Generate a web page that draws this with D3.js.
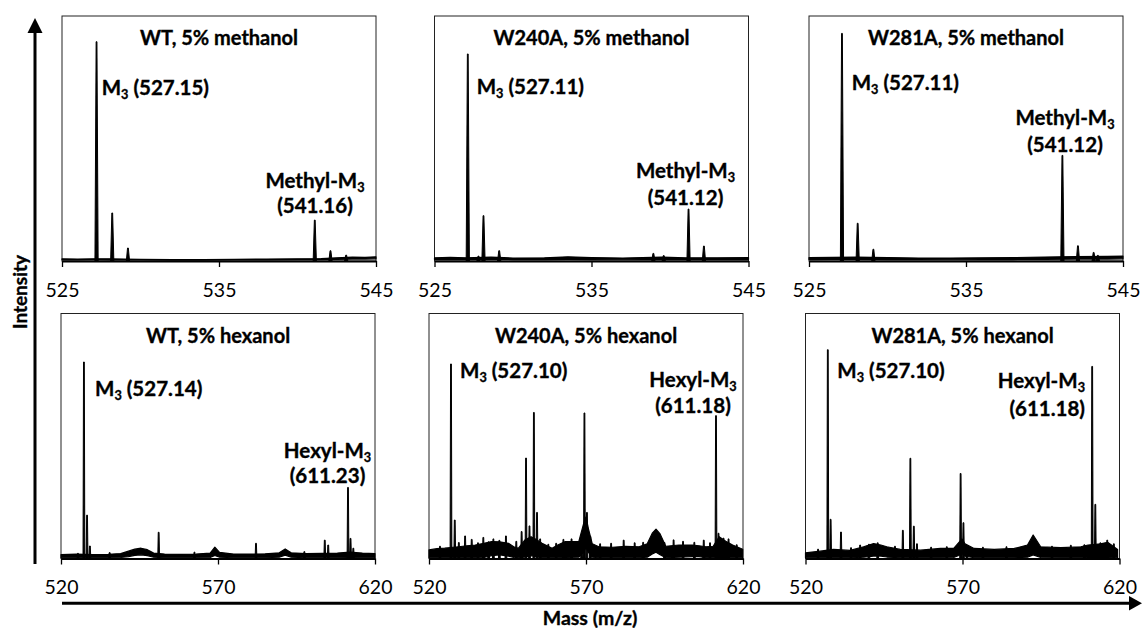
<!DOCTYPE html>
<html>
<head>
<meta charset="utf-8">
<script src="https://cdn.jsdelivr.net/npm/d3@7"></script>
<style>
  body { margin: 0; background: #fff; }
  svg { display: block; }
</style>
</head>
<body>
<script>
// ---- data (m/z, relative intensity in % of panel height) ----
const titles = ["WT, 5% methanol", "W240A, 5% methanol", "W281A, 5% methanol",
                "WT, 5% hexanol", "W240A, 5% hexanol", "W281A, 5% hexanol"];
const parentMz = ["527.15", "527.11", "527.11", "527.14", "527.10", "527.10"];
const adductName = ["Methyl", "Methyl", "Methyl", "Hexyl", "Hexyl", "Hexyl"];
const adductMz = ["541.16", "541.12", "541.12", "611.23", "611.18", "611.18"];
const methTicks = [525, 535, 545];
const hexTicks = [520, 570, 620];

const wtMethPeaks = [[527.2, 89.5], [528.2, 19.6], [529.2, 5.3], [541.1, 16.7], [542.1, 4.2], [543.1, 2.4]];
const wtMethNoise = [[525, 0.5, 0.9], [526, 0.5, 0.8], [527, 0.5, 0.9], [528, 0.4, 0.9], [530, 0.4, 0.7], [532, 0.3, 0.6],
  [534, 0.3, 0.6], [536, 0.4, 0.7], [538, 0.4, 0.8], [540, 0.5, 0.9], [541.5, 0.6, 1.0], [542.5, 0.7, 1.3],
  [543.5, 0.8, 1.6], [544.3, 0.8, 1.5], [545, 0.9, 1.7]];

const w240MethPeaks = [[527.12, 84.5], [527.8, 2.0], [528.12, 18.5], [529.12, 4.2], [538.94, 3.1], [539.6, 2.2],
  [541.18, 21.2], [542.16, 6.1]];
const w240MethNoise = [[525, 0.6, 1.3], [526, 0.7, 1.5], [527, 0.6, 1.3], [528.6, 0.7, 1.6], [530, 0.6, 1.2],
  [532, 0.6, 1.3], [533.5, 0.7, 1.7], [535, 0.6, 1.4], [537, 0.5, 1.2], [539.5, 0.7, 1.6], [541, 0.6, 1.3],
  [543, 0.6, 1.3], [545, 0.6, 1.4]];

const w281MethPeaks = [[527.1, 92.9], [528.1, 15.4], [529.1, 4.8], [541.14, 43.1], [542.13, 6.2], [543.13, 3.5], [543.4, 2.3]];
const w281MethNoise = [[525, 0.6, 1.4], [526.5, 0.7, 1.5], [528, 0.7, 1.6], [530, 0.6, 1.4], [532, 0.6, 1.2],
  [534, 0.5, 1.2], [536, 0.6, 1.3], [538, 0.6, 1.4], [540, 0.7, 1.6], [542, 0.8, 1.8], [544, 0.8, 1.9], [545, 0.9, 2.0]];

const wtHexPeaks = [[525.4, 2.1], [527.3, 80.2], [528.3, 17.7], [529.2, 5.1], [535.5, 2.4], [551.1, 10.7], [562.5, 2.6],
  [582.1, 6.2], [597.5, 2.8], [604.0, 7.5], [605.1, 5.5], [611.4, 29.0], [612.2, 8.2], [613.1, 4.2]];
const wtHexNoise = [[520, 0.3, 1.6], [525, 0.3, 1.8], [530, 0.3, 1.6], [535, 0.3, 1.7], [539, 0.4, 2.0], [541.5, 0.8, 3.0],
  [543.5, 1.3, 3.8], [545.5, 1.5, 4.2], [547.5, 1.2, 3.6], [549.5, 0.5, 2.2], [553, 0.3, 1.8], [558, 0.3, 1.7],
  [563, 0.3, 1.8], [567.5, 0.4, 2.2], [569, 1.2, 4.6], [570.5, 0.5, 2.5], [575, 0.3, 1.8], [580, 0.3, 1.8],
  [585, 0.3, 1.9], [589.5, 0.5, 2.3], [591.4, 1.4, 3.9], [593.3, 0.5, 2.3], [598, 0.3, 2.0], [603, 0.3, 2.1],
  [608, 0.3, 2.2], [612, 0.4, 2.6], [616, 0.3, 2.2], [620, 0.3, 2.0]];

const w240HexPeaks = [[523.5, 5.0], [527.0, 79.4], [528.2, 15.7], [529.5, 6.5], [531.5, 9.2], [533.6, 7.8], [535.6, 6.4],
  [537.3, 8.6], [539.0, 6.8], [540.5, 8.0], [542.4, 7.4], [544.5, 9.2], [547.8, 7.0], [549.5, 11.0], [550.9, 41.0],
  [552.0, 13.3], [553.4, 59.6], [554.4, 18.8], [555.4, 8.0], [558.0, 5.8], [560.5, 6.2], [562.8, 7.8], [565.4, 8.0],
  [568.6, 9.0], [569.5, 59.4], [570.3, 18.8], [571.4, 9.0], [574.5, 6.0], [578.0, 6.2], [582.0, 7.5], [585.5, 6.4],
  [588.2, 6.6], [595.0, 6.5], [597.9, 7.6], [600.9, 7.0], [604.5, 6.6], [607.5, 7.5], [609.5, 6.4],
  [611.4, 58.3], [612.2, 10.3], [613.8, 8.3], [615.4, 8.0], [618.0, 5.6]];
const w240HexNoise = [[520, 0.3, 3.5], [522.5, 0.3, 4.0], [525, 0.3, 4.2], [529.4, 0.3, 4.8], [532, 0.3, 5.2],
  [534.7, 0.3, 5.5], [537.5, 0.4, 6.2], [540, 1.2, 6.9], [542.5, 1.5, 6.8], [545.3, 1.0, 6.2], [547, 0.4, 4.8],
  [548.5, 0.3, 4.2], [550.5, 0.6, 7.5], [552.5, 1.2, 8.9], [554.5, 0.6, 7.5], [556, 0.3, 6.2], [559.2, 0.3, 4.2],
  [561, 0.3, 5.5], [563.4, 0.4, 6.9], [567.7, 0.5, 6.9], [569.2, 2.5, 14.0], [570, 4.5, 17.0], [570.8, 2.5, 12.0],
  [572, 0.5, 6.0], [574.1, 0.3, 4.8], [578.4, 0.3, 4.6], [582.6, 0.3, 5.0], [586.9, 0.3, 4.8], [589.5, 0.5, 6.0],
  [591.1, 1.8, 10.3], [592.3, 2.6, 12.0], [593.6, 1.5, 10.0], [595.4, 0.3, 5.0], [599.6, 0.5, 5.5], [603.9, 0.8, 5.5],
  [606, 0.8, 5.2], [608.2, 0.3, 4.8], [610.5, 0.3, 5.0], [612.4, 0.5, 8.9], [614.5, 0.4, 7.0], [616.7, 0.3, 5.5],
  [619.9, 0.3, 3.8]];

const w281HexPeaks = [[524.0, 3.8], [527.1, 85.2], [528.0, 16.0], [531.3, 10.8], [534.5, 4.4], [537.4, 5.5],
  [540.2, 5.8], [543.0, 6.4], [548.5, 5.0], [551.0, 11.5], [553.4, 40.9], [554.5, 13.2], [555.5, 6.0], [560.0, 4.6],
  [565.0, 4.8], [569.4, 34.7], [570.3, 14.6], [571.4, 5.0], [576.5, 4.6], [584.0, 4.8], [598.5, 5.0], [604.5, 5.4],
  [608.8, 5.6], [611.3, 78.4], [612.3, 22.1], [613.9, 6.4], [616.1, 7.5], [618.2, 6.0]];
const w281HexNoise = [[520, 0.3, 2.3], [524.7, 0.3, 3.0], [528.9, 0.3, 3.7], [534.2, 0.3, 3.3], [538.5, 0.5, 4.8],
  [541.7, 1.0, 6.1], [544, 1.0, 5.5], [545.9, 0.6, 4.8], [550.2, 0.3, 3.7], [556.6, 0.3, 3.4], [563, 0.3, 4.1],
  [567.2, 0.4, 4.1], [568.8, 1.2, 6.5], [569.8, 2.0, 8.0], [570.8, 1.0, 6.0], [573.7, 0.3, 4.1], [580.1, 0.3, 3.7],
  [586.5, 0.3, 4.1], [590.7, 0.5, 5.5], [592.5, 1.5, 9.6], [594.9, 0.4, 4.8], [601.3, 0.3, 4.4], [607.7, 0.3, 4.8],
  [610, 0.4, 5.5], [614, 0.4, 6.0], [616.2, 0.4, 6.6], [619.4, 0.3, 3.7]];

// ---- layout ----
const width = 1142, height = 628;
const font = "Lato, 'Open Sans', sans-serif";
const panelW = 314, panelH = 245;
const rowTop = [16, 313.5];
const colLeft = [[62, 434.5, 809], [61, 429, 805.5]];
// label offsets from each panel's top-left corner
const parentPos = [[39.7, 79], [42.2, 78.3], [42.7, 74], [34, 82.5], [31, 64.8], [31.8, 64.8]];
const adductPos = [[253, 172, 197, "middle"], [251, 162.3, 189, "middle"], [256, 109, 135.7, "middle"],
                   [266.5, 144.8, 169.8, "middle"], [264, 73.2, 99.2, "middle"], [279.5, 74.8, 102.5, "end"]];

const panels = [
  {peaks: wtMethPeaks, noise: wtMethNoise, ticks: methTicks},
  {peaks: w240MethPeaks, noise: w240MethNoise, ticks: methTicks},
  {peaks: w281MethPeaks, noise: w281MethNoise, ticks: methTicks},
  {peaks: wtHexPeaks, noise: wtHexNoise, ticks: hexTicks},
  {peaks: w240HexPeaks, noise: w240HexNoise, ticks: hexTicks},
  {peaks: w281HexPeaks, noise: w281HexNoise, ticks: hexTicks}
];

const svg = d3.select("body").append("svg")
  .attr("width", width).attr("height", height)
  .style("font-family", font);

function boldText(sel, size) {
  return sel.attr("font-weight", "bold").attr("font-size", size).attr("fill", "#000")
    .attr("stroke", "#000").attr("stroke-width", 0.35);
}

function subLabel(g, x, y, before, after, anchor) {
  const t = boldText(g.append("text"), 20.5).attr("x", x).attr("y", y).attr("text-anchor", anchor);
  t.append("tspan").text(before + "M");
  t.append("tspan").attr("font-size", "0.62em").attr("dy", 4).text("3");
  if (after) t.append("tspan").attr("dy", -4).text(after);
}

panels.forEach((p, i) => {
  const row = i < 3 ? 0 : 1;
  const x0 = colLeft[row][i % 3], y0 = rowTop[row];
  const x = d3.scaleLinear().domain(d3.extent(p.ticks)).range([x0, x0 + panelW]);
  const y = d3.scaleLinear().domain([0, 100]).range([y0 + panelH, y0]);
  const hw = row === 0 ? 1.6 : 0.9;
  const g = svg.append("g");

  g.append("rect").attr("x", x0).attr("y", y0).attr("width", panelW).attr("height", panelH)
    .attr("fill", "#fff").attr("stroke", "#222").attr("stroke-width", 1);

  const band = d3.area().x(d => x(d[0])).y0(d => y(d[1])).y1(d => y(d[2]));
  g.append("path").datum(p.noise).attr("d", band)
    .attr("fill", "#000").attr("stroke", "#000").attr("stroke-width", 1.2).attr("stroke-linejoin", "round");

  g.append("g").selectAll("path").data(p.peaks).join("path")
    .attr("d", d => {
      const px = x(d[0]), b = y(0), t = y(d[1]);
      return `M${px - hw},${b}L${px - 0.4},${t}L${px + 0.4},${t}L${px + hw},${b}Z`;
    })
    .attr("fill", "#000").attr("stroke", "#000").attr("stroke-width", 1);

  g.append("g").attr("transform", `translate(0,${y0 + panelH})`)
    .call(d3.axisBottom(x).tickValues(p.ticks).tickSize(6).tickSizeOuter(0).tickPadding(16))
    .attr("font-family", font).attr("font-size", 19.5)
    .call(a => a.select(".domain").attr("stroke", "#000").attr("stroke-width", 2))
    .call(a => a.selectAll(".tick line").attr("stroke", "#000").attr("stroke-width", 1.3))
    .call(a => a.selectAll(".tick text").attr("fill", "#000"));

  boldText(g.append("text"), 20).attr("x", x0 + panelW / 2).attr("y", y0 + 29).attr("text-anchor", "middle")
    .text(titles[i]);

  subLabel(g, x0 + parentPos[i][0], y0 + parentPos[i][1], "", ` (${parentMz[i]})`, "start");
  const ap = adductPos[i];
  subLabel(g, x0 + ap[0], y0 + ap[1], adductName[i] + "-", "", ap[3]);
  boldText(g.append("text"), 20.5).attr("x", x0 + ap[0]).attr("y", y0 + ap[2]).attr("text-anchor", ap[3])
    .text(`(${adductMz[i]})`);
});

// outer axis arrows
svg.append("line").attr("x1", 35).attr("x2", 35).attr("y1", 564).attr("y2", 30)
  .attr("stroke", "#000").attr("stroke-width", 3);
svg.append("path").attr("d", "M35,18L27.5,33L42.5,33Z").attr("fill", "#000");
boldText(svg.append("text"), 19).attr("transform", "translate(26.5,292) rotate(-90)").attr("text-anchor", "middle")
  .text("Intensity");

svg.append("line").attr("x1", 62).attr("x2", 1131).attr("y1", 603.3).attr("y2", 603.3)
  .attr("stroke", "#000").attr("stroke-width", 3);
svg.append("path").attr("d", "M1142,603.3L1129,596L1129,610.6Z").attr("fill", "#000");
boldText(svg.append("text"), 19.5).attr("x", 590).attr("y", 625).attr("text-anchor", "middle")
  .text("Mass (m/z)");
</script>
</body>
</html>
